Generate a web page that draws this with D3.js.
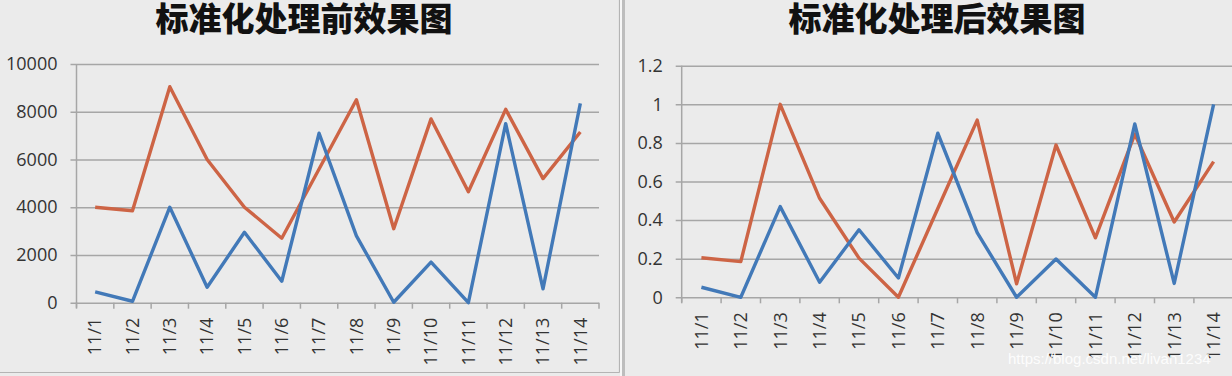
<!DOCTYPE html>
<html lang="zh">
<head>
    <meta charset="UTF-8">
    <title>标准化处理前后效果图</title>
    <style>
        body {
            margin: 0;
            padding: 0;
            background-color: #ebebeb;
            overflow: hidden;
        }
        svg {
            display: block;
        }
        .title {
            font-family: "Noto Sans CJK SC", sans-serif;
            font-weight: 900;
            font-size: 33px;
            fill: #111;
            text-anchor: middle;
        }
        .tick text {
            font-family: "Open Sans", "Liberation Sans", sans-serif;
            font-size: 18px;
            fill: #333;
        }
        .grid line {
            stroke: #a6a6a6;
            stroke-width: 1.5px;
        }
        .line {
            fill: none;
            stroke-width: 3.4px;
            stroke-linejoin: round;
        }
        .watermark {
            font-family: "Liberation Sans", sans-serif;
            font-size: 15px;
            fill: #ffffff;
            fill-opacity: 0.9;
        }
    </style>
</head>
<body>
    <div id="chart"></div>

    <script src="https://d3js.org/d3.v7.min.js"></script>
    <script>
        const dates = ["11/1", "11/2", "11/3", "11/4", "11/5", "11/6", "11/7",
                       "11/8", "11/9", "11/10", "11/11", "11/12", "11/13", "11/14"];

        // before standardisation
        const rawBlue = [450, 60, 4000, 650, 2950, 900, 7100, 2800, 20, 1700, 0, 7500, 580, 8350];
        const rawOrange = [4000, 3850, 9050, 6000, 4000, 2700, 5600, 8500, 3100, 7700, 4650, 8100, 5200, 7150];
        const rawTicks = [0, 2000, 4000, 6000, 8000, 10000];

        // after standardisation
        const normBlue = [0.052, 0, 0.47, 0.078, 0.35, 0.10, 0.85, 0.335, 0, 0.198, 0, 0.898, 0.072, 1.0];
        const normOrange = [0.205, 0.185, 1.0, 0.513, 0.203, 0, 0.46, 0.918, 0.07, 0.789, 0.308, 0.846, 0.39, 0.703];
        const normTicks = [0, 0.2, 0.4, 0.6, 0.8, 1, 1.2];

        const blue = "#4279b8";
        const orange = "#cd6445";

        const W = 1232, H = 376;

        const svg = d3.select("#chart").append("svg")
            .attr("width", W)
            .attr("height", H);

        // panel frames
        svg.append("line")
            .attr("x1", 619.5).attr("x2", 619.5).attr("y1", 0).attr("y2", 372.5)
            .attr("stroke", "#b4b4b4").attr("stroke-width", 1.2);
        svg.append("line")
            .attr("x1", 0).attr("x2", 619.5).attr("y1", 372.5).attr("y2", 372.5)
            .attr("stroke", "#b4b4b4").attr("stroke-width", 1.2);
        svg.append("rect")
            .attr("x", 620).attr("y", 0).attr("width", 2).attr("height", H)
            .attr("fill", "#f6f6f6");
        svg.append("rect")
            .attr("x", 622).attr("y", 0).attr("width", 3).attr("height", H)
            .attr("fill", "#bdbdbd");

        function drawChart(cfg) {
            const x = d3.scaleBand()
                .domain(dates)
                .range([cfg.left, cfg.right])
                .padding(0);

            const y = d3.scaleLinear()
                .domain([0, cfg.max])
                .range([cfg.bottom, cfg.top]);

            const g = svg.append("g");

            // title
            g.append("text")
                .attr("class", "title")
                .attr("x", cfg.titleX)
                .attr("y", 31)
                .text(cfg.title);

            // gridlines + y labels
            const yAxis = g.append("g")
                .attr("class", "grid")
                .attr("transform", `translate(${cfg.left},0)`)
                .call(d3.axisLeft(y)
                    .tickValues(cfg.ticks)
                    .tickSize(-(cfg.right - cfg.left))
                    .tickPadding(19)
                    .tickFormat(d => String(d)));
            yAxis.select(".domain").remove();
            yAxis.selectAll(".tick line")
                .attr("x1", -6);

            // vertical axis line
            g.append("line")
                .attr("x1", cfg.left).attr("x2", cfg.left)
                .attr("y1", cfg.top).attr("y2", cfg.bottom + 5)
                .attr("stroke", "#a6a6a6").attr("stroke-width", 1.5);

            // category axis
            const xAxis = g.append("g")
                .attr("transform", `translate(0,${cfg.bottom})`)
                .call(d3.axisBottom(x).tickSize(0).tickPadding(0));
            xAxis.select(".domain").remove();
            xAxis.selectAll(".tick text")
                .attr("transform", "rotate(-90)")
                .attr("x", -cfg.labelGap)
                .attr("y", 0)
                .attr("dy", "0.35em")
                .style("text-anchor", "end");

            // category boundary tick marks
            g.selectAll(".xtick")
                .data(dates.concat([null]))
                .enter().append("line")
                .attr("x1", (d, i) => cfg.left + i * x.bandwidth())
                .attr("x2", (d, i) => cfg.left + i * x.bandwidth())
                .attr("y1", cfg.bottom)
                .attr("y2", cfg.bottom + 6)
                .attr("stroke", "#a6a6a6").attr("stroke-width", 1.5);

            const line = d3.line()
                .x((d, i) => x(dates[i]) + x.bandwidth() / 2)
                .y(d => y(d));

            cfg.series.forEach(s => {
                g.append("path")
                    .datum(s.values)
                    .attr("class", "line")
                    .attr("stroke", s.color)
                    .attr("d", line);
            });
        }

        drawChart({
            title: "标准化处理前效果图",
            titleX: 304,
            left: 76.5, right: 599,
            top: 64, bottom: 302.7,
            max: 10000,
            ticks: rawTicks,
            labelGap: 15,
            series: [
                { values: rawOrange, color: orange },
                { values: rawBlue, color: blue }
            ]
        });

        drawChart({
            title: "标准化处理后效果图",
            titleX: 937,
            left: 681.7, right: 1233.3,
            top: 65.7, bottom: 297.3,
            max: 1.2,
            ticks: normTicks,
            labelGap: 15,
            series: [
                { values: normOrange, color: orange },
                { values: normBlue, color: blue }
            ]
        });

        svg.append("text")
            .attr("class", "watermark")
            .attr("x", 1008)
            .attr("y", 364)
            .text("https://blog.csdn.net/livan1234");
    </script>
</body>
</html>
